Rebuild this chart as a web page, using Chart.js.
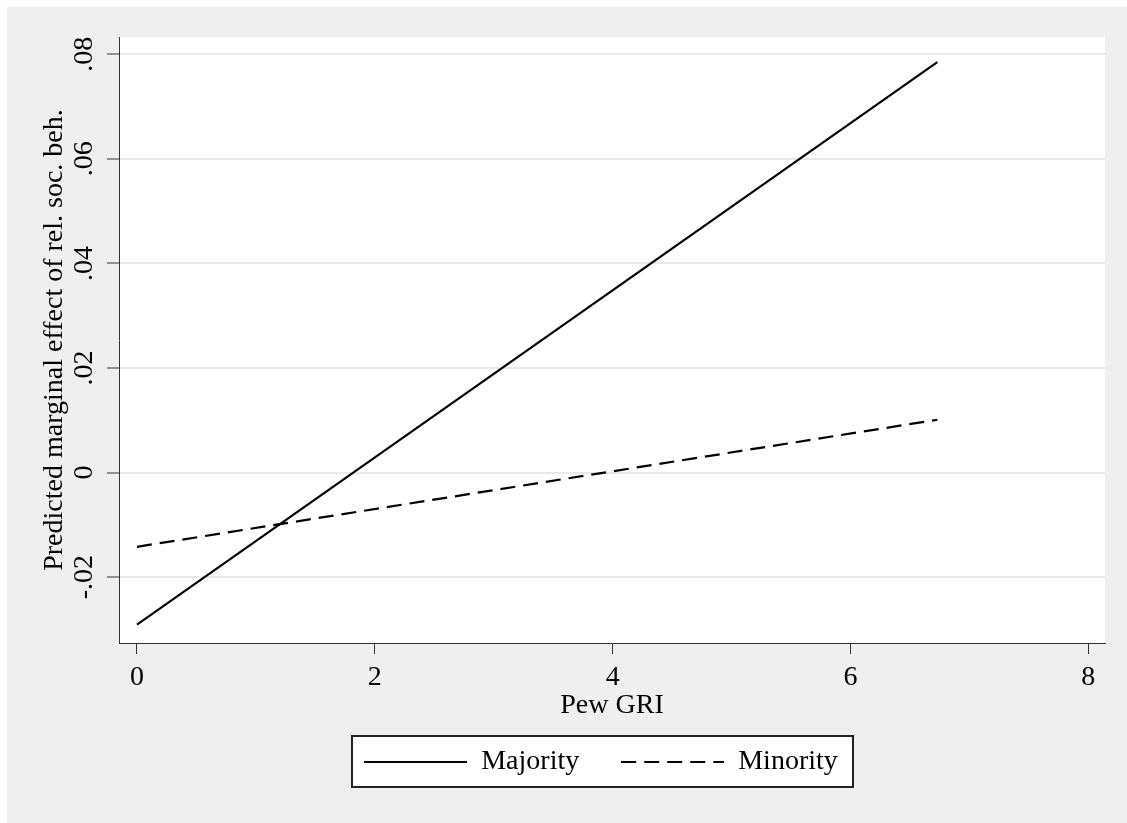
<!DOCTYPE html>
<html>
<head>
<meta charset="utf-8">
<script src="https://cdn.jsdelivr.net/npm/chart.js@4.4.1/dist/chart.umd.min.js"></script>
<style>
  body { margin: 0; background: #fff; }
  canvas { display: block; }
</style>
</head>
<body>
<canvas id="marginsChart" width="1127" height="823"></canvas>
<script>
// predicted marginal effect at both ends of the Pew GRI range
const pewGri = [0, 6.73];
const majority = [-0.0291, 0.0785];
const minority = [-0.0142, 0.0101];
const seriesNames = ['Majority', 'Minority'];

const xTicks = [0, 2, 4, 6, 8];
const xTickLabels = ['0', '2', '4', '6', '8'];
const yTicks = [-0.02, 0, 0.02, 0.04, 0.06, 0.08];
const yTickLabels = ['-.02', '0', '.02', '.04', '.06', '.08'];

const serif = { family: "'Liberation Serif', 'Times New Roman', serif", size: 28 };
const ink = '#000';
const axisColor = '#333';
const minorityDash = [15, 8];

// legend samples: a solid and a dashed stroke, as small canvases used as point style
function lineSample(dash) {
    const c = document.createElement('canvas');
    c.width = 103;
    c.height = 4;
    const g = c.getContext('2d');
    g.strokeStyle = ink;
    g.lineWidth = 2;
    g.setLineDash(dash);
    g.beginPath();
    g.moveTo(0, 2);
    g.lineTo(103, 2);
    g.stroke();
    return c;
}

// gray Stata background, white plot region and the box around the legend
const stataFrame = {
    id: 'stataFrame',
    afterLayout(chart) {
        const lg = chart.legend;
        lg.left += 45;
        lg.right += 45;
        lg.top -= 17;
        lg.bottom -= 17;
    },
    beforeDraw(chart) {
        const ctx = chart.ctx;
        const a = chart.chartArea;
        ctx.save();
        ctx.fillStyle = '#fff';
        ctx.fillRect(0, 0, chart.width, chart.height);
        ctx.fillStyle = '#efefef';
        ctx.fillRect(7, 7, chart.width - 7, chart.height - 7);
        ctx.fillStyle = '#fff';
        ctx.fillRect(a.left, a.top, a.right - a.left, a.bottom - a.top);

        const boxes = chart.legend.legendHitBoxes;
        if (boxes && boxes.length) {
            const first = boxes[0];
            const last = boxes[boxes.length - 1];
            const l = Math.round(first.left - 12);
            const r = Math.round(last.left + last.width + 15);
            const t = Math.round(first.top - 12);
            const b = Math.round(first.top + first.height + 11);
            ctx.fillStyle = '#fff';
            ctx.fillRect(l, t, r - l, b - t);
            ctx.strokeStyle = '#222';
            ctx.lineWidth = 2;
            ctx.strokeRect(l, t, r - l, b - t);
        }
        ctx.restore();
    }
};

const ctx = document.getElementById('marginsChart').getContext('2d');
new Chart(ctx, {
    type: 'line',
    data: {
        datasets: [{
            label: seriesNames[0],
            data: pewGri.map((x, i) => ({ x: x, y: majority[i] })),
            borderColor: ink,
            backgroundColor: ink,
            borderWidth: 2.2,
            pointRadius: 0,
            pointStyle: lineSample([]),
            fill: false
        }, {
            label: seriesNames[1],
            data: pewGri.map((x, i) => ({ x: x, y: minority[i] })),
            borderColor: ink,
            backgroundColor: ink,
            borderWidth: 2.2,
            borderDash: minorityDash,
            pointRadius: 0,
            pointStyle: lineSample(minorityDash),
            fill: false
        }]
    },
    options: {
        responsive: false,
        animation: false,
        events: [],
        layout: { padding: { top: 37, right: 22, left: 7, bottom: 20 } },
        plugins: {
            tooltip: { enabled: false },
            legend: {
                position: 'bottom',
                labels: {
                    usePointStyle: true,
                    pointStyleWidth: 103,
                    boxHeight: 28,
                    padding: 42,
                    color: ink,
                    font: serif
                }
            }
        },
        scales: {
            x: {
                type: 'linear',
                min: -0.151,
                max: 8.14,
                afterBuildTicks: s => { s.ticks = xTicks.map(v => ({ value: v })); },
                afterFit: s => { s.height = 80; },
                ticks: {
                    padding: 7,
                    maxRotation: 0,
                    color: ink,
                    font: serif,
                    callback: (v, i) => xTickLabels[i]
                },
                grid: { drawOnChartArea: false, tickColor: axisColor, tickLength: 11, tickWidth: 1 },
                border: { color: axisColor, width: 1 },
                title: { display: true, text: 'Pew GRI', color: ink, font: serif, padding: { top: 0, bottom: 1 } }
            },
            y: {
                min: -0.0326,
                max: 0.0833,
                afterBuildTicks: s => { s.ticks = yTicks.map(v => ({ value: v })); },
                afterFit: s => { s.width = 112; },
                ticks: {
                    minRotation: 90,
                    maxRotation: 90,
                    crossAlign: 'center',
                    padding: 0,
                    color: ink,
                    font: serif,
                    callback: (v, i) => yTickLabels[i]
                },
                grid: { color: '#e9e9e9', lineWidth: 2, tickColor: axisColor, tickLength: 12, tickWidth: 1 },
                border: { color: axisColor, width: 1 },
                title: {
                    display: true,
                    text: 'Predicted marginal effect of rel. soc. beh.',
                    color: ink,
                    font: serif,
                    padding: { top: 31, bottom: 0 }
                }
            }
        }
    },
    plugins: [stataFrame]
});
</script>
</body>
</html>
